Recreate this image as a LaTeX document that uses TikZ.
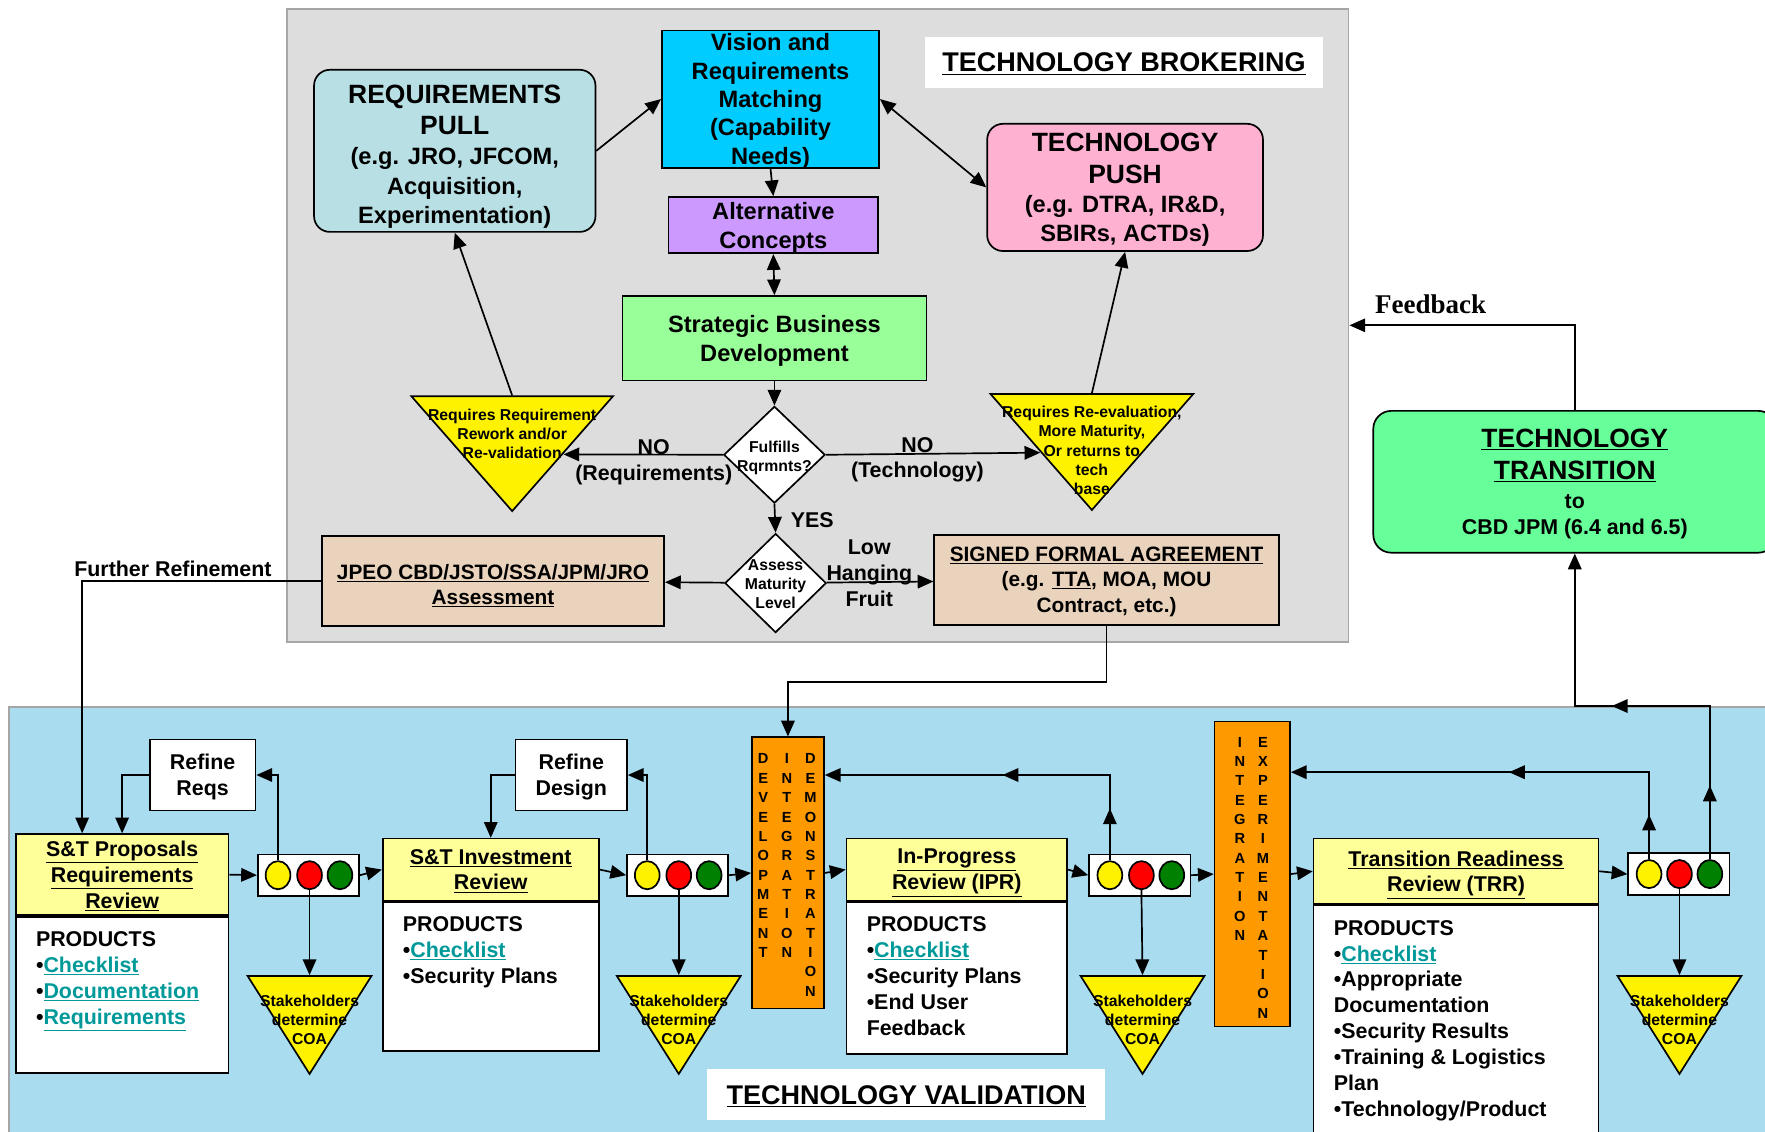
\documentclass[tikz,border=0pt]{standalone}
\usepackage{fontspec}
\setmainfont{Liberation Sans}
\newfontfamily\fbserif{Liberation Serif}
\usepackage{xcolor}
\usepackage{tikz}
\usetikzlibrary{shapes.geometric,arrows.meta,decorations.markings,positioning}

\definecolor{panelgray}{HTML}{DDDDDD}
\definecolor{panelline}{HTML}{A6A6A6}
\definecolor{valblue}{HTML}{A9DCEF}
\definecolor{cyanc}{HTML}{00CCFF}
\definecolor{pullc}{HTML}{B8E0E4}
\definecolor{pushc}{HTML}{FFB1D2}
\definecolor{purplec}{HTML}{CC99FF}
\definecolor{sbdc}{HTML}{99FF99}
\definecolor{tanc}{HTML}{EAD3BC}
\definecolor{headyellow}{HTML}{FFFF99}
\definecolor{orangec}{HTML}{FF9900}
\definecolor{transc}{HTML}{66FF99}
\definecolor{lampgreen}{HTML}{008000}
\definecolor{linkteal}{HTML}{009999}

\newcommand\bigline[1]{{\fontsize{23.5}{27}\selectfont #1}}
\newcommand\linktxt[1]{{\color{linkteal}\underline{#1}}}

\tikzset{box/.style={draw,align=center,inner sep=0pt,text depth=-3.5pt},
  panel/.style={draw=panelline,line width=1.6pt},
  titlebox/.style={fill=white,inner sep=0pt,text depth=0pt,minimum width=353pt,minimum height=45pt,font=\fontsize{24}{28}\selectfont\bfseries},
  bigtxt/.style={font=\fontsize{21}{26}\selectfont\bfseries},
  jtxt/.style={font=\fontsize{18.5}{22.5}\selectfont\bfseries},
  midtxt/.style={font=\fontsize{19}{23}\selectfont\bfseries},
  lbl/.style={midtxt,align=center},
  fbtxt/.style={font=\fontsize{24}{28}\selectfont\fbserif\bfseries},
  smalltxt/.style={font=\fontsize{14}{17}\selectfont\bfseries,align=center,inner sep=0pt},
  letters/.style={font=\fontsize{13}{17.2}\selectfont\bfseries,align=center,inner sep=0pt,anchor=north},
  tri/.style={isosceles triangle,isosceles triangle stretches,shape border rotate=270,draw,fill=yellow,inner sep=0pt},
  stake/.style={tri,minimum width=110pt,minimum height=87pt,anchor=apex},
  dia/.style={diamond,draw,fill=white,inner sep=0pt,minimum width=90pt},
  revhead/.style={box,fill=headyellow,midtxt},
  prod/.style={draw,fill=white,anchor=north,inner xsep=18pt,inner ysep=13pt,midtxt},
  refine/.style={box,fill=white,minimum height=63pt,midtxt},
  sigbox/.style={draw,fill=white,minimum width=90pt,minimum height=37pt},
  lamp/.style={ellipse,draw,minimum width=22pt,minimum height=25pt,inner sep=0pt},
  column/.style={draw,fill=orangec},
  midtips/.style 2 args={postaction={decorate,decoration={markings,
      mark=at position #1 with {\arrow{>}},mark=at position #2 with {\arrow{>}}}}}}

\begin{document}
\begin{tikzpicture}[x=1pt,y=-1pt,>={Triangle[length=14pt,width=12pt]},line width=1.5pt]
    \useasboundingbox (0,0) rectangle (1568,1005);

    % panels
    \node[panel,fill=panelgray,minimum width=943pt,minimum height=562pt] (brk)at (726.5,289) {};
    \node[panel,fill=valblue,minimum width=1570pt,minimum height=392pt] (val)at (793,824) {};
    \node[titlebox] (brktitle)at (998.5,55.5) {\underline{TECHNOLOGY BROKERING}};
    \node[titlebox] (valtitle)at (805,972.5) {\underline{TECHNOLOGY VALIDATION}};

    % technology brokering
    \node[box,fill=cyanc,minimum width=193pt,minimum height=122pt,font=\fontsize{21}{25.2}\selectfont\bfseries] (vision)at (684.5,88) {Vision and\\Requirements\\Matching\\(Capability\\Needs)};
    \node[box,bigtxt,fill=pullc,rounded corners=14pt,minimum width=250pt,minimum height=144pt,text height=129pt,text depth=0pt] (pull)at (404,134) {\bigline{REQUIREMENTS}\\[2pt]\bigline{PULL}\\[1pt](e.g. JRO, JFCOM,\\Acquisition,\\Experimentation)};
    \node[box,bigtxt,fill=pushc,rounded corners=14pt,minimum width=245pt,minimum height=113pt] (push)at (999.5,166.5) {\bigline{TECHNOLOGY}\\[2pt]\bigline{PUSH}\\(e.g. DTRA, IR\&D,\\SBIRs, ACTDs)};
    \node[box,bigtxt,fill=purplec,minimum width=186pt,minimum height=50pt] (alt)at (687,200) {Alternative\\Concepts};
    \node[box,bigtxt,fill=sbdc,minimum width=270pt,minimum height=75pt] (sbd)at (688,300.5) {Strategic Business\\Development};
    \node[dia,minimum height=86pt,label={[smalltxt,yshift=-3pt]center:Fulfills\\Rqrmnts?}] (ful)at (688,404) {};
    \node[dia,minimum height=88pt,label={[smalltxt,yshift=-1pt]center:Assess\\Maturity\\Level}] (assess)at (689,518) {};
    \node[tri,minimum width=179pt,minimum height=102pt,anchor=apex,
          label={[smalltxt,anchor=north,yshift=-11pt]north:Requires Requirement\\Rework and/or\\Re-validation}] (rework)at (455,456) {};
    \node[tri,minimum width=180pt,minimum height=103pt,anchor=apex,
          label={[smalltxt,anchor=north,yshift=-11pt]north:Requires Re-evaluation,\\More Maturity,\\Or returns to\\tech\\base}] (reeval)at (970,455) {};
    \node[box,jtxt,fill=tanc,minimum width=304pt,minimum height=80pt,text height=42pt,text depth=0pt] (jpeo)at (438,516) {\underline{JPEO CBD/JSTO/SSA/JPM/JRO}\\\underline{Assessment}};
    \node[box,jtxt,fill=tanc,minimum width=306pt,minimum height=80pt] (signed)at (983,515) {\underline{SIGNED FORMAL AGREEMENT}\\(e.g. \underline{TTA}, MOA, MOU\\Contract, etc.)};
    \node[box,fill=transc,rounded corners=16pt,minimum width=358pt,minimum height=126pt,font=\fontsize{19}{23}\selectfont\bfseries] (trans)at (1399,428) {\bigline{\underline{TECHNOLOGY}}\\[5pt]\bigline{\underline{TRANSITION}}\\[3pt]to\\CBD JPM (6.4 and 6.5)};

    % technology validation
    \node[revhead,minimum width=189pt,minimum height=72pt] (prop)at (108.5,777) {\underline{S\&T Proposals}\\\underline{Requirements}\\\underline{Review}};
    \node[prod] (propb)at (prop.south) {\parbox[c][113pt][t]{153pt}{PRODUCTS\\•\linktxt{Checklist}\\•\linktxt{Documentation}\\•\linktxt{Requirements}}};
    \node[revhead,minimum width=192pt,minimum height=55pt] (inv)at (436,772.5) {\underline{S\&T Investment}\\\underline{Review}};
    \node[prod] (invb)at (inv.south) {\parbox[c][106pt][t]{156pt}{PRODUCTS\\•\linktxt{Checklist}\\•Security Plans}};
    \node[revhead,minimum width=196pt,minimum height=55pt,text depth=-5pt] (ipr)at (850,772.5) {\underline{In-Progress}\\\underline{Review (IPR)}};
    \node[prod] (iprb)at (ipr.south) {\parbox[c][109pt][t]{160pt}{PRODUCTS\\•\linktxt{Checklist}\\•Security Plans\\•End User\\Feedback}};
    \node[revhead,minimum width=253pt,minimum height=58pt,text depth=-5pt] (trr)at (1293.5,774) {\underline{Transition Readiness}\\\underline{Review (TRR)}};
    \node[prod] (trrb)at (trr.south) {\parbox[c][181pt][t]{217pt}{PRODUCTS\\•\linktxt{Checklist}\\•Appropriate\\Documentation\\•Security Results\\•Training \& Logistics\\Plan\\•Technology/Product}};

    \node[refine,minimum width=94pt] (reqs)at (180,688.5) {Refine\\Reqs};
    \node[refine,minimum width=99pt] (design)at (507.5,688.5) {Refine\\Design};

    \node[column,minimum width=64pt,minimum height=241pt] (dev)at (700,775.5) {};
    \node[letters] (deva)at (678,669) {D\\E\\V\\E\\L\\O\\P\\M\\E\\N\\T};
    \node[letters] (devb)at (699,669) {I\\N\\T\\E\\G\\R\\A\\T\\I\\O\\N};
    \node[letters] (devc)at (720,669) {D\\E\\M\\O\\N\\S\\T\\R\\A\\T\\I\\O\\N};
    \node[column,minimum width=67pt,minimum height=271pt] (int)at (1112.5,776.5) {};
    \node[letters] (inta)at (1101.5,654) {I\\N\\T\\E\\G\\R\\A\\T\\I\\O\\N};
    \node[letters] (intb)at (1122,654) {E\\X\\P\\E\\R\\I\\M\\E\\N\\T\\A\\T\\I\\O\\N};

    \node[sigbox] (sig1)at (274,777.5) {};
    \node[lamp,fill=yellow] (y1)at (247,777.5) {};
    \node[lamp,fill=red] (r1)at (275,777.5) {};
    \node[lamp,fill=lampgreen] (g1)at (302,777.5) {};
    \node[sigbox] (sig2)at (602,777.5) {};
    \node[lamp,fill=yellow] (y2)at (575,777.5) {};
    \node[lamp,fill=red] (r2)at (603,777.5) {};
    \node[lamp,fill=lampgreen] (g2)at (630,777.5) {};
    \node[sigbox] (sig3)at (1012.5,777.5) {};
    \node[lamp,fill=yellow] (y3)at (986,777.5) {};
    \node[lamp,fill=red] (r3)at (1014,777.5) {};
    \node[lamp,fill=lampgreen] (g3)at (1041,777.5) {};
    \node[sigbox] (sig4)at (1491.5,776.5) {};
    \node[lamp,fill=yellow] (y4)at (1465,776.5) {};
    \node[lamp,fill=red] (r4)at (1492,776.5) {};
    \node[lamp,fill=lampgreen] (g4)at (1519,776.5) {};

    \node[stake,label={[smalltxt,anchor=north,yshift=-17pt]north:Stakeholders\\determine\\COA}] (coa1)at (275,956) {};
    \node[stake,label={[smalltxt,anchor=north,yshift=-17pt]north:Stakeholders\\determine\\COA}] (coa2)at (603,956) {};
    \node[stake,label={[smalltxt,anchor=north,yshift=-17pt]north:Stakeholders\\determine\\COA}] (coa3)at (1015,956) {};
    \node[stake,label={[smalltxt,anchor=north,yshift=-17pt]north:Stakeholders\\determine\\COA}] (coa4)at (1492,956) {};

    % brokering connectors
    \draw [->] (pull.east) to [] (vision.west);
    \draw [<->] (vision.east) to [] (push.west);
    \draw [->] (vision.south) to [] (alt.north);
    \draw [<->] (alt.south) to [] (sbd.north);
    \draw [->] (sbd.south) to [] (ful.north);
    \draw [->] (ful.west) to []node[lbl,pos=0.434,yshift=7pt]{NO}node[lbl,pos=0.434,yshift=-17.8pt]{(Requirements)} (rework.left side);
    \draw [->] (ful.east) to []node[lbl,pos=0.427,yshift=8pt]{NO}node[lbl,pos=0.427,yshift=-15.8pt]{(Technology)} (reeval.right side);
    \draw [->] (rework.lower side) to [] (pull.south);
    \draw [->] (reeval.lower side) to [] (push.south);
    \draw [->] (ful.south) to []node[lbl,right=10pt,yshift=-2pt]{YES} (assess.north);
    \draw [->] (assess) to [] (jpeo);
    \draw [->] (assess) to []node[lbl,pos=0.4,yshift=8pt]{Low\\Hanging\\Fruit} (signed);
    \draw [->] (signed.south) -- ++(0,50) -| (dev.north);
    \draw [->] (jpeo.west) -| node[lbl,above,pos=0.31]{Further Refinement} ([xshift=-35.5pt]prop.north);
    \draw [->] (trans.north) |- node[fbtxt,above=6pt,pos=0.82]{Feedback} (brk.east);

    % validation connectors
    \draw [->] (prop.east) to [] (sig1.west);
    \draw [->] (sig1.east) to [] (inv.west);
    \draw [->] (inv.east) to [] (sig2.west);
    \draw [->] (sig2.east) to [] (dev.west);
    \draw [->] (dev.east) to [] (ipr.west);
    \draw [->] (ipr.east) to [] (sig3.west);
    \draw [->] (sig3.east) to [] (int.west);
    \draw [->] (int.east) to [] (trr.west);
    \draw [->] (trr.east) to [] (sig4.west);
    \draw [->] (r1.south) to [] (coa1.north);
    \draw [->] (r2.south) to [] (coa2.north);
    \draw [->] (r3.south) to [] (coa3.north);
    \draw [->] (r4.south) to [] (coa4.north);
    \draw [->] (y1.north) |- (reqs.east);
    \draw [->] (reqs.west) -| (prop.north);
    \draw [->] (y2.north) |- (design.east);
    \draw [->] (design.west) -| (inv.north);
    \draw [->,midtips={0.14}{0.52}] (y3.north) |- (dev.east |- reqs.east);
    \draw [->,midtips={0.1}{0.51}] (y4.north) |- ([yshift=2.5pt]int.east |- reqs.east);
    \draw [->,midtips={0.167}{0.57}] (g4.north) |- (trans.south |- val.north) -- (trans.south);
\end{tikzpicture}
\end{document}
